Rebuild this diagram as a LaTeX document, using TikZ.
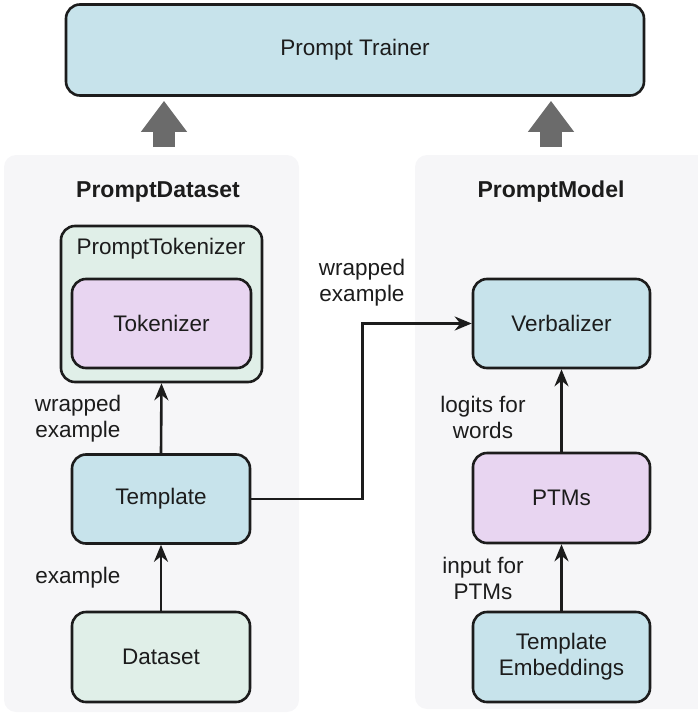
\documentclass[tikz,border=0pt]{standalone}
\usepackage{fontspec}
\setmainfont{Liberation Sans}
\usetikzlibrary{arrows.meta}
\definecolor{panelgray}{HTML}{F6F6F8}
\definecolor{boxblue}{HTML}{C7E3EB}
\definecolor{boxgreen}{HTML}{E0EFE8}
\definecolor{boxpurple}{HTML}{E8D5F1}
\definecolor{arrowgray}{HTML}{6B6B6B}
\definecolor{ink}{HTML}{1C1C1C}
\begin{document}
\begin{tikzpicture}[x=1pt,y=-1pt,
  txt/.style={font=\fontsize{22.5}{27}\selectfont, text=ink},
  title/.style={font=\fontsize{23}{27}\selectfont\bfseries, text=ink},
  lbl/.style={txt, align=center, inner sep=0pt},
  box/.style={draw=ink, line width=2.6pt, rounded corners=14pt, txt, align=center, inner sep=0pt},
  bluebox/.style={box, fill=boxblue},
  greenbox/.style={box, fill=boxgreen},
  purplebox/.style={box, fill=boxpurple},
  panel/.style={fill=panelgray, rounded corners=12pt},
  conn/.style={draw=ink, line width=2.6pt, -{Stealth[length=17pt,width=14pt,inset=5.5pt]}},
  bigarrow/.style={draw=arrowgray, line width=22pt, -{Triangle[length=31pt,width=44pt]}, shorten >=4pt}
]
\useasboundingbox (0,0) rectangle (698,715);
% panels
\fill[panel] (4,155) rectangle (299,712);
\fill[panel] (415,155) rectangle (712,709);

% trainer
\node[bluebox, minimum width=578pt, minimum height=91pt] (trainer) at (355,50) {Prompt Trainer};

% big arrows
\coordinate (ds) at (164,147);
\coordinate (pm) at (551,147);
\draw[bigarrow] (ds) -- (ds |- trainer.south);
\draw[bigarrow] (pm) -- (pm |- trainer.south);

% titles
\node[title] (dstitle) at (158,192) {PromptDataset};
\node[title] (pmtitle) at (551,192) {PromptModel};

% left column
\node[greenbox, minimum width=201pt, minimum height=156pt] (ptok) at (161.5,304) {};
\node[txt, inner sep=0pt] (ptoklbl) at (161,249) {PromptTokenizer};
\node[purplebox, minimum width=179pt, minimum height=89pt] (tok) at (161.5,323.5) {Tokenizer};
\node[bluebox, minimum width=178pt, minimum height=89pt] (template) at (161,499) {Template};
\node[greenbox, minimum width=178pt, minimum height=90pt] (dataset) at (161,657) {Dataset};

% right column
\node[bluebox, minimum width=177pt, minimum height=89pt] (verb) at (561.5,323.5) {Verbalizer};
\node[purplebox, minimum width=177pt, minimum height=90pt] (ptms) at (561.5,498) {PTMs};
\node[bluebox, minimum width=177pt, minimum height=90pt] (temb) at (561.5,657) {Template\\[-1pt]Embeddings};

% connectors
\draw[conn] (dataset.north) -- (template.south);
\draw[conn] (template.north) -- (ptok.south);
\draw[conn] (temb.north) -- (ptms.south);
\draw[conn] (ptms.north) -- (verb.south);
\draw[conn] (template.east) -- ++(111,0) |- (verb.west);

% labels
\node[lbl] (l1) at (78,419) {wrapped\\[-1pt]example};
\node[lbl] (l2) at (78,578) {example};
\node[lbl] (l3) at (362,283) {wrapped\\[-1pt]example};
\node[lbl] (l4) at (483,417) {logits for\\[-1pt]words};
\node[lbl] (l5) at (483,578) {input for\\[-1pt]PTMs};
\end{tikzpicture}
\end{document}
